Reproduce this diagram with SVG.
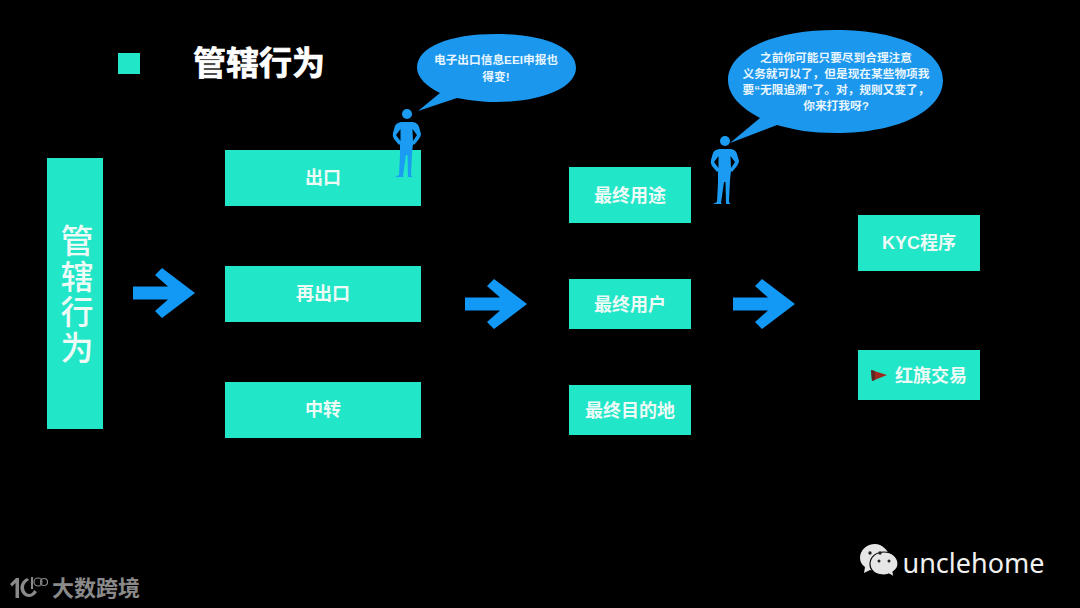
<svg xmlns="http://www.w3.org/2000/svg" width="1080" height="608" viewBox="0 0 1080 608">
<style>
text{font-family:"Liberation Sans","Noto Sans CJK SC",sans-serif;text-anchor:middle}
.b{fill:#21e6c8}
.l{fill:#eefaf6;font-size:18px;font-weight:700}
.a{fill:#1298f5}
.bub{fill:#1b97ee}
.s{fill:#e8f6ff;font-size:11.7px;font-weight:700}
.m{fill:#1b9cf2;fill-rule:evenodd}
</style>
<defs>
<path id="arr" d="M0 -6.5H35L22 -18L29 -25L62 0L29 25L22 18L35 6.5H0Z"/>
<g id="man"><circle cx="14" cy="5" r="5"/><path d="M8 13H20Q25 14 26 18L28 25Q28 27 26 30L21 36L20 35L19 44L18 66L19.5 68H15L14.5 46H13L10 67L11 68H2L6 66L7 46L7 35L6 36L1 30Q-1 27 0 24L2 17Q3 14 8 13ZM7.500 20L3 26L7.500 32ZM19.500 20L24 26L20 32Z"/></g>
</defs>
<rect width="1080" height="608" fill="#000"/>
<g id="title"><rect x="118" y="53" width="22" height="21" class="b"/><text x="259" y="75" font-size="33" font-weight="700" fill="#fff" stroke="#fff" stroke-width=".7">管辖行为</text></g>
<g id="n-root"><rect x="47" y="158" width="56" height="271" class="b"/><text class="l" x="74.500" y="295" style="font-size:33px;font-weight:500;letter-spacing:2.500px;writing-mode:vertical-rl">管辖行为</text></g>
<g id="n-export"><rect x="225" y="150" width="196" height="56" class="b"/><text class="l" x="323" y="184">出口</text></g>
<g id="n-reexport"><rect x="225" y="266" width="196" height="56" class="b"/><text class="l" x="323" y="300">再出口</text></g>
<g id="n-transit"><rect x="225" y="382" width="196" height="56" class="b"/><text class="l" x="323" y="416">中转</text></g>
<g id="n-use"><rect x="569" y="167" width="122" height="56" class="b"/><text class="l" x="630" y="202">最终用途</text></g>
<g id="n-user"><rect x="569" y="279" width="122" height="50" class="b"/><text class="l" x="630" y="311">最终用户</text></g>
<g id="n-dest"><rect x="569" y="385" width="122" height="50" class="b"/><text class="l" x="630" y="417">最终目的地</text></g>
<g id="n-kyc"><rect x="858" y="215" width="122" height="56" class="b"/><text class="l" x="919" y="249">KYC程序</text></g>
<g id="n-flag"><rect x="858" y="350" width="122" height="50" class="b"/><path d="M871 370L887 375L872 381Z" fill="#a3261e"/><path d="M871 370L875 371L875 380L872 381Z" fill="#5a2a22"/><text class="l" x="931" y="382">红旗交易</text></g>
<g id="connectors">
<use href="#arr" class="a" x="133" y="293"/>
<use href="#arr" class="a" x="465" y="304"/>
<use href="#arr" class="a" x="733" y="304"/>
</g>
<g id="callout-1"><use href="#man" class="m" x="393" y="109"/><path class="bub" d="M440 93C427 87 417 77 417 68C417 47 449 34 496 34C543 34 576 47 576 68C576 87 543 102 496 102C481 102 469 100 457 98L418 111Z"/><text class="s" x="496" y="64">电子出口信息EEI申报也</text><text class="s" x="496" y="81">得变!</text></g>
<g id="callout-2"><use href="#man" class="m" x="711" y="136"/><path class="bub" d="M760 118C741 108 728 95 728 80C728 52 770 30 836 30C902 30 943 52 943 80C943 110 900 133 836 133C810 133 795 130 777 125L730 143Z"/><text class="s" x="836" y="62">之前你可能只要尽到合理注意</text><text class="s" x="836" y="78">义务就可以了，但是现在某些物项我</text><text class="s" x="836" y="94">要“无限追溯”了。对，规则又变了，</text><text class="s" x="836" y="110">你来打我呀?</text></g>
<g id="wm-left" fill="#8a8a8a"><path d="M10 584L16 578H19V598H15.500V583L12 586.500Z"/><path d="M27 578C20 582 19 588 22 593C26 599 33 598 37 592L34 590C32 595 27 595 25 591C23 587 24 583 29 580Z"/><path d="M31 577H33V589H31Z"/><circle cx="38" cy="582" r="4" fill="none" stroke="#8a8a8a" stroke-width="1.200"/><circle cx="44" cy="582" r="3.500" fill="none" stroke="#8a8a8a" stroke-width="1.200"/><text x="96" y="596" font-size="22" font-weight="700">大数跨境</text></g>
<g id="wm-right"><path d="M875 544C867 544 860 550 860 558C860 562 862 565 865 567L864 573L870 570C873 571 876 571 878 571L890 557C888 550 882 544 875 544Z" fill="#e6e6e6"/><path d="M884 552C876 552 870 557 870 564C870 571 876 575 884 575C886 575 888 575 889 574L894 577L893 572C896 570 898 567 898 564C898 557 892 552 884 552Z" fill="#e6e6e6" stroke="#000" stroke-width="1.200"/><circle cx="870" cy="553" r="1.700" fill="#222"/><circle cx="880" cy="553" r="1.700" fill="#222"/><circle cx="879" cy="561" r="1.500" fill="#222"/><circle cx="889" cy="561" r="1.500" fill="#222"/><text x="973.500" y="573" font-size="27" fill="#f0f0f0" style="font-family:'Noto Sans',sans-serif">unclehome</text></g>
</svg>
